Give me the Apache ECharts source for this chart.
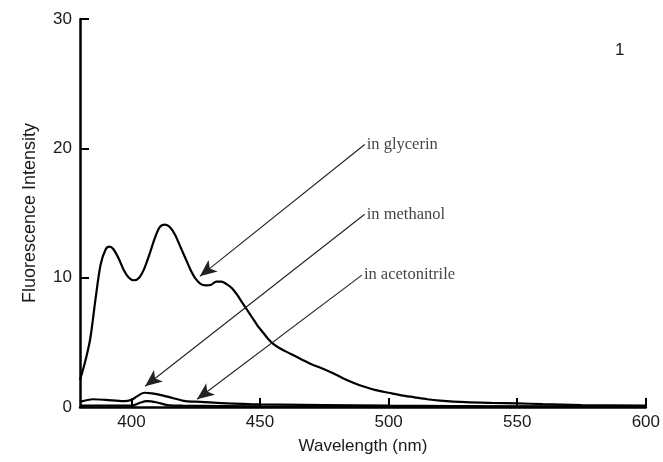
<!DOCTYPE html>
<html>
<head>
<meta charset="utf-8">
<script src="https://cdn.jsdelivr.net/npm/echarts@6/dist/echarts.min.js"></script>
<style>
  html, body { margin: 0; padding: 0; background: #fff; }
  #chart { width: 663px; height: 462px; }
</style>
</head>
<body>
<div id="chart"></div>
<script>
// Emission spectra, [wavelength nm, intensity]
const glycerin = [
  [380, 2.1], [382, 3.5], [384, 5.3], [386, 8.3], [388, 11.0], [390, 12.2],
  [391.5, 12.4], [393, 12.2], [395, 11.5], [397, 10.6], [399, 10.0], [401, 9.8],
  [403, 10.0], [405, 10.7], [407, 11.8], [409, 13.0], [411, 13.9], [413, 14.1],
  [415, 13.9], [417, 13.3], [419, 12.4], [421, 11.5], [423, 10.6], [425, 9.9],
  [427, 9.5], [429, 9.4], [431, 9.45], [433, 9.7], [435, 9.7], [437, 9.5],
  [439, 9.2], [441, 8.7], [443, 8.1], [445, 7.5], [447, 6.9], [449, 6.3],
  [451, 5.8], [453, 5.3], [455, 4.9], [458, 4.5], [462, 4.1], [466, 3.7],
  [470, 3.3], [474, 3.0], [478, 2.65], [482, 2.25], [486, 1.9], [490, 1.6],
  [495, 1.3], [500, 1.1], [505, 0.9], [510, 0.75], [515, 0.6], [520, 0.5],
  [530, 0.38], [540, 0.32], [550, 0.28], [560, 0.22], [575, 0.15], [600, 0.1]
];
const methanol = [
  [380, 0.4], [385, 0.6], [390, 0.55], [397, 0.45], [400, 0.55], [402, 0.8],
  [405, 1.1], [408, 1.05], [412, 0.9], [416, 0.7], [421, 0.45], [427, 0.4],
  [435, 0.3], [450, 0.2], [500, 0.1], [550, 0.05], [600, 0.05]
];
const acetonitrile = [
  [380, 0.1], [400, 0.1], [403, 0.3], [406, 0.45], [410, 0.35], [414, 0.15],
  [420, 0.1], [450, 0.05], [600, 0.02]
];

// Callout labels and the arrows pointing to each curve: [from, to]
const calloutNames = ['in glycerin', 'in methanol', 'in acetonitrile'];
const calloutArrows = [
  [[490.7, 20.3], [426.6, 10.1]],
  [[490.7, 14.9], [405.3, 1.6]],
  [[489.6, 10.2], [425.5, 0.6]]
];

const xTicks = [400, 450, 500, 550, 600];

const sans = 'Liberation Sans, Arial, sans-serif';
const serif = 'Liberation Serif, Times New Roman, serif';

const chart = echarts.init(document.getElementById('chart'));

const lineSeries = (name, data) => ({
  name, type: 'line', data,
  showSymbol: false, smooth: 0.3,
  lineStyle: { color: '#000', width: 2.2 },
  silent: true
});

chart.setOption({
  animation: false,
  backgroundColor: '#fff',
  grid: { left: 80, right: 16, top: 19, bottom: 55 },
  xAxis: {
    type: 'value', min: 380, max: 600,
    name: 'Wavelength (nm)', nameLocation: 'middle', nameGap: 31,
    nameTextStyle: { fontFamily: sans, fontSize: 17, color: '#1a1a1a' },
    axisLine: { lineStyle: { color: '#000', width: 2.5 } },
    axisTick: { show: true, inside: true, length: 9, lineStyle: { color: '#000', width: 2 }, customValues: xTicks },
    axisLabel: { fontFamily: sans, fontSize: 17, color: '#1a1a1a', margin: 7, customValues: xTicks },
    splitLine: { show: false }
  },
  yAxis: {
    type: 'value', min: 0, max: 30, interval: 10,
    name: 'Fluorescence Intensity', nameLocation: 'middle', nameGap: 41,
    nameTextStyle: { fontFamily: sans, fontSize: 18, color: '#1a1a1a' },
    axisLine: { show: true, lineStyle: { color: '#000', width: 2.5 } },
    axisTick: { show: true, inside: true, length: 9, lineStyle: { color: '#000', width: 2 } },
    axisLabel: { fontFamily: sans, fontSize: 17, color: '#1a1a1a', margin: 8 },
    splitLine: { show: false }
  },
  graphic: [{
    type: 'text', left: 615, top: 42,
    style: { text: '1', fontFamily: sans, fontSize: 17, fill: '#1a1a1a' }
  }],
  series: [
    lineSeries('glycerin', glycerin),
    lineSeries('methanol', methanol),
    lineSeries('acetonitrile', acetonitrile),
    {
      name: 'callouts', type: 'scatter', symbolSize: 0, silent: true,
      data: calloutArrows.map((a, i) => ({ value: a[0], name: calloutNames[i] })),
      label: {
        show: true, position: 'right', distance: 2,
        formatter: p => p.name,
        fontFamily: serif, fontSize: 16.5, color: '#111'
      },
      markLine: {
        silent: true, symbol: ['none', 'arrow'], symbolSize: [11, 17],
        label: { show: false },
        lineStyle: { color: '#222', width: 1.1, type: 'solid' },
        data: calloutArrows.map(a => [{ coord: a[0] }, { coord: a[1] }])
      }
    }
  ]
});
</script>
</body>
</html>
